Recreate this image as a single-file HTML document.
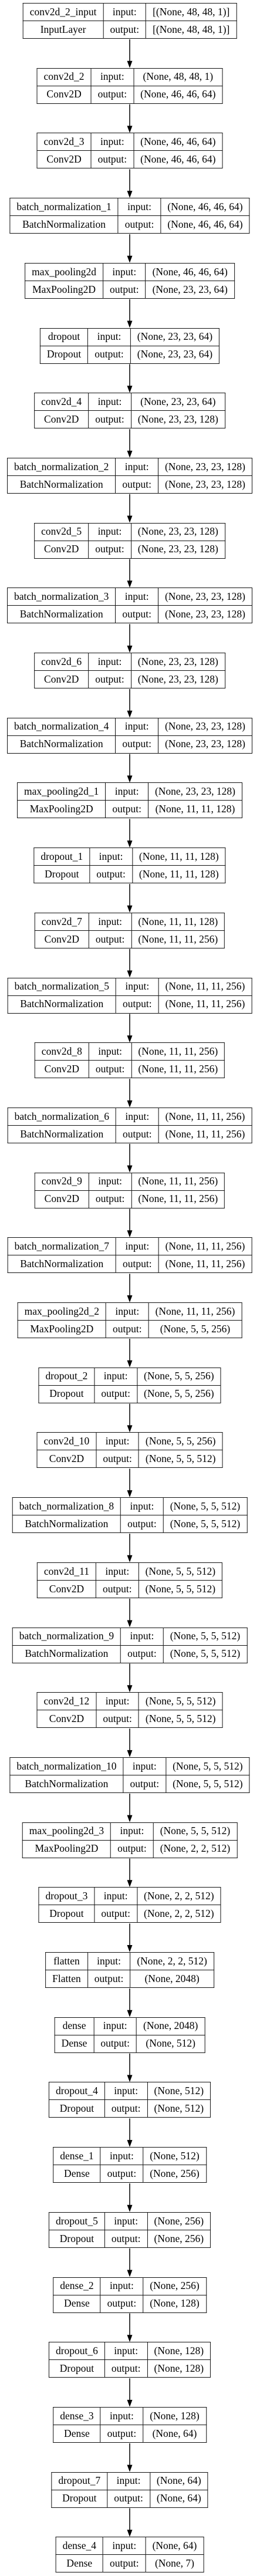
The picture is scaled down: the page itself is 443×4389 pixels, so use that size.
<!DOCTYPE html>
<html><head><meta charset="utf-8">
<style>
html,body{margin:0;padding:0;background:#fff;}
body{width:443px;height:4389px;position:relative;overflow:hidden;font-family:"Liberation Serif","Times New Roman",serif;}
table.node{position:absolute;border-collapse:collapse;transform:translateX(-50%);font-size:17.5px;color:#000;background:#fff;}
table.node td{border:1.5px solid #111;height:29px;padding:0 11px;text-align:center;white-space:nowrap;line-height:1;}
svg{position:absolute;left:0;top:0;}
</style></head>
<body>
<svg id="edges" width="443" height="4389"></svg>
<script>
const layerNames=["conv2d_2_input","conv2d_2","conv2d_3","batch_normalization_1","max_pooling2d","dropout","conv2d_4","batch_normalization_2","conv2d_5","batch_normalization_3","conv2d_6","batch_normalization_4","max_pooling2d_1","dropout_1","conv2d_7","batch_normalization_5","conv2d_8","batch_normalization_6","conv2d_9","batch_normalization_7","max_pooling2d_2","dropout_2","conv2d_10","batch_normalization_8","conv2d_11","batch_normalization_9","conv2d_12","batch_normalization_10","max_pooling2d_3","dropout_3","flatten","dense","dropout_4","dense_1","dropout_5","dense_2","dropout_6","dense_3","dropout_7","dense_4"];
const layerTypes=["InputLayer","Conv2D","Conv2D","BatchNormalization","MaxPooling2D","Dropout","Conv2D","BatchNormalization","Conv2D","BatchNormalization","Conv2D","BatchNormalization","MaxPooling2D","Dropout","Conv2D","BatchNormalization","Conv2D","BatchNormalization","Conv2D","BatchNormalization","MaxPooling2D","Dropout","Conv2D","BatchNormalization","Conv2D","BatchNormalization","Conv2D","BatchNormalization","MaxPooling2D","Dropout","Flatten","Dense","Dropout","Dense","Dropout","Dense","Dropout","Dense","Dropout","Dense"];
const inputShapes=["[(None, 48, 48, 1)]","(None, 48, 48, 1)","(None, 46, 46, 64)","(None, 46, 46, 64)","(None, 46, 46, 64)","(None, 23, 23, 64)","(None, 23, 23, 64)","(None, 23, 23, 128)","(None, 23, 23, 128)","(None, 23, 23, 128)","(None, 23, 23, 128)","(None, 23, 23, 128)","(None, 23, 23, 128)","(None, 11, 11, 128)","(None, 11, 11, 128)","(None, 11, 11, 256)","(None, 11, 11, 256)","(None, 11, 11, 256)","(None, 11, 11, 256)","(None, 11, 11, 256)","(None, 11, 11, 256)","(None, 5, 5, 256)","(None, 5, 5, 256)","(None, 5, 5, 512)","(None, 5, 5, 512)","(None, 5, 5, 512)","(None, 5, 5, 512)","(None, 5, 5, 512)","(None, 5, 5, 512)","(None, 2, 2, 512)","(None, 2, 2, 512)","(None, 2048)","(None, 512)","(None, 512)","(None, 256)","(None, 256)","(None, 128)","(None, 128)","(None, 64)","(None, 64)"];
const outputShapes=["[(None, 48, 48, 1)]","(None, 46, 46, 64)","(None, 46, 46, 64)","(None, 46, 46, 64)","(None, 23, 23, 64)","(None, 23, 23, 64)","(None, 23, 23, 128)","(None, 23, 23, 128)","(None, 23, 23, 128)","(None, 23, 23, 128)","(None, 23, 23, 128)","(None, 23, 23, 128)","(None, 11, 11, 128)","(None, 11, 11, 128)","(None, 11, 11, 256)","(None, 11, 11, 256)","(None, 11, 11, 256)","(None, 11, 11, 256)","(None, 11, 11, 256)","(None, 11, 11, 256)","(None, 5, 5, 256)","(None, 5, 5, 256)","(None, 5, 5, 512)","(None, 5, 5, 512)","(None, 5, 5, 512)","(None, 5, 5, 512)","(None, 5, 5, 512)","(None, 5, 5, 512)","(None, 2, 2, 512)","(None, 2, 2, 512)","(None, 2048)","(None, 512)","(None, 512)","(None, 256)","(None, 256)","(None, 128)","(None, 128)","(None, 64)","(None, 64)","(None, 7)"];

const CX=221, TOP0=5, PITCH=110.7, BOXH=62;
const svg=document.getElementById('edges');
const NS='http://www.w3.org/2000/svg';
function cell(tr,text,name){
  const td=document.createElement('td');
  td.textContent=text;
  
  
  tr.appendChild(td);
}
for(let i=0;i<layerNames.length;i++){
  const t=document.createElement('table');
  t.className='node';
  
  
  t.style.left=CX+'px';
  t.style.top=(TOP0+i*PITCH)+'px';
  const r1=document.createElement('tr'), r2=document.createElement('tr');
  cell(r1,layerNames[i],'layer-name');
  cell(r1,'input:','input-label');
  cell(r1,inputShapes[i],'input-shape');
  cell(r2,layerTypes[i],'layer-type');
  cell(r2,'output:','output-label');
  cell(r2,outputShapes[i],'output-shape');
  t.appendChild(r1);t.appendChild(r2);
  document.body.appendChild(t);
  if(i>0){
    const y1=TOP0+(i-1)*PITCH+BOXH, y2=TOP0+i*PITCH;
    const ln=document.createElementNS(NS,'line');
    
    
    ln.setAttribute('x1',CX);ln.setAttribute('x2',CX);
    ln.setAttribute('y1',y1);ln.setAttribute('y2',y2-11);
    ln.setAttribute('stroke','#000');ln.setAttribute('stroke-width','1.5');
    svg.appendChild(ln);
    const ah=document.createElementNS(NS,'polygon');
    
    
    ah.setAttribute('points',(CX-4.5)+','+(y2-12)+' '+(CX+4.5)+','+(y2-12)+' '+CX+','+(y2));
    ah.setAttribute('fill','#000');
    svg.appendChild(ah);
  }
}
</script>
</body></html>
